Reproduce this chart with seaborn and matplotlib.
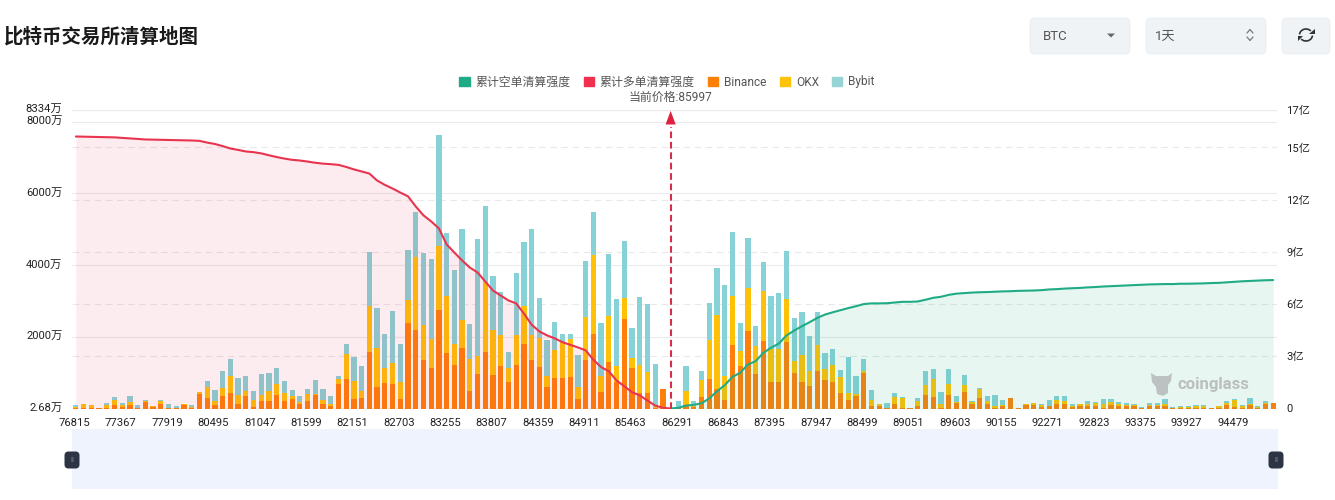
import matplotlib
matplotlib.use("Agg")
import matplotlib.pyplot as plt
from matplotlib.patches import Arc, FancyBboxPatch, Patch, Polygon, Rectangle
from matplotlib.transforms import ScaledTranslation
import numpy as np
import pandas as pd
import seaborn as sns

# 每个价格档的清算强度,单位:万
binance = [
    20, 20, 14, 8, 28, 92, 48, 112, 8, 176,
    48, 120, 8, 6, 112, 17, 420, 308, 104, 364,
    448, 120, 356, 48, 204, 204, 372, 224, 272, 132,
    204, 372, 120, 84, 672, 832, 280, 288, 1576, 596,
    708, 672, 280, 2388, 2184, 1344, 1120, 2744, 1540, 1204,
    1680, 484, 972, 1568, 924, 1176, 728, 1204, 1792, 1344,
    1156, 616, 848, 840, 876, 272, 1344, 2072, 468, 1288,
    736, 2492, 1128, 440, 440, 14, 560, 0, 20, 112,
    48, 316, 812, 560, 252, 1772, 1176, 2156, 972, 1896,
    736, 736, 1856, 988, 736, 624, 1036, 784, 736, 448,
    252, 344, 988, 84, 84, 8, 120, 20, 6, 84,
    372, 328, 20, 392, 148, 456, 132, 308, 132, 28,
    76, 300, 3, 112, 92, 36, 64, 140, 120, 36,
    64, 84, 84, 28, 92, 84, 76, 76, 20, 76,
    84, 84, 20, 20, 20, 28, 20, 6, 20, 104,
    36, 28, 92, 20, 132, 148,
]
okx = [
    28, 112, 78, 6, 84, 160, 64, 84, 8, 48,
    17, 84, 8, 6, 8, 20, 48, 288, 101, 216,
    448, 252, 148, 204, 168, 280, 308, 216, 73, 64,
    216, 48, 132, 56, 160, 689, 484, 216, 1288, 1092,
    412, 608, 468, 636, 2052, 988, 820, 1800, 1588, 596,
    792, 888, 493, 1960, 1260, 876, 400, 840, 1064, 720,
    812, 288, 784, 1016, 1075, 344, 1196, 2212, 437, 1288,
    440, 580, 291, 764, 568, 22, 0, 0, 17, 384,
    36, 476, 1112, 2044, 652, 1355, 440, 1196, 773, 1380,
    916, 916, 1204, 328, 756, 412, 736, 316, 487, 428,
    176, 56, 48, 160, 48, 11, 207, 288, 6, 140,
    272, 484, 120, 300, 48, 188, 56, 244, 84, 56,
    28, 0, 3, 8, 56, 56, 20, 112, 95, 48,
    56, 36, 76, 112, 104, 36, 36, 17, 8, 28,
    28, 48, 8, 17, 36, 56, 64, 3, 45, 45,
    216, 48, 48, 28, 17, 0,
]
bybit = [
    45, 8, 11, 3, 56, 84, 48, 148, 95, 20,
    20, 39, 123, 53, 3, 56, 3, 168, 319, 456,
    476, 487, 400, 244, 580, 496, 459, 325, 168, 160,
    132, 372, 300, 224, 64, 280, 664, 692, 1504, 1112,
    952, 1445, 1044, 1400, 1252, 2008, 2232, 3072, 1764, 2064,
    2531, 980, 3268, 2120, 1512, 1187, 440, 1736, 1792, 2948,
    1103, 1019, 776, 216, 140, 868, 1576, 1204, 1476, 1736,
    1868, 1604, 820, 1904, 1904, 1215, 0, 0, 168, 680,
    132, 244, 1016, 1308, 2540, 1792, 773, 1408, 552, 812,
    1492, 1568, 1336, 1212, 1196, 988, 924, 459, 428, 196,
    1008, 496, 356, 288, 8, 140, 120, 8, 8, 84,
    392, 288, 336, 409, 148, 280, 28, 28, 148, 288,
    129, 8, 3, 0, 11, 48, 168, 112, 129, 48,
    11, 84, 28, 132, 76, 56, 48, 48, 20, 45,
    56, 148, 8, 39, 8, 8, 8, 6, 11, 67,
    20, 36, 160, 17, 67, 11,
]

# 累计清算强度,单位:亿
long_line = [
    15.63, 15.62, 15.61, 15.60, 15.59, 15.58, 15.55, 15.52, 15.49, 15.46,
    15.45, 15.44, 15.43, 15.42, 15.41, 15.40, 15.38, 15.28, 15.20, 15.08,
    14.94, 14.86, 14.77, 14.73, 14.66, 14.55, 14.45, 14.36, 14.29, 14.25,
    14.19, 14.12, 14.07, 14.04, 14.00, 13.88, 13.74, 13.62, 13.50, 13.10,
    12.85, 12.64, 12.41, 12.19, 11.61, 11.10, 10.75, 10.35, 9.43, 8.96,
    8.51, 8.10, 7.82, 7.30, 6.78, 6.49, 6.21, 6.04, 5.46, 4.82,
    4.43, 4.20, 4.03, 3.81, 3.66, 3.51, 3.34, 2.80, 2.38, 2.14,
    1.61, 1.28, 0.94, 0.75, 0.46, 0.17, 0.04, 0,
]
short_line = [
    0, 0.04, 0.17, 0.21, 0.30, 0.58, 0.99, 1.34, 1.82, 2.05, 2.53, 2.72,
    3.20, 3.49, 3.73, 4.20, 4.48, 4.73, 4.96, 5.21, 5.40, 5.53, 5.65, 5.77,
    5.88, 6.00, 6.04, 6.04, 6.05, 6.09, 6.13, 6.13, 6.15, 6.25, 6.36, 6.42,
    6.53, 6.60, 6.63, 6.66, 6.68, 6.69, 6.71, 6.73, 6.74, 6.76, 6.77, 6.78,
    6.80, 6.84, 6.86, 6.89, 6.91, 6.93, 6.96, 6.98, 7.01, 7.03, 7.05, 7.07,
    7.09, 7.11, 7.13, 7.14, 7.15, 7.15, 7.17, 7.17, 7.18, 7.19, 7.21, 7.22,
    7.25, 7.28, 7.31, 7.33, 7.35, 7.37, 7.38,
]

price_labels = [
    "76815", "77367", "77919", "80495", "81047", "81599", "82151", "82703", "83255",
    "83807", "84359", "84911", "85463", "86291", "86843", "87395", "87947", "88499",
    "89051", "89603", "90155", "92271", "92823", "93375", "93927", "94479",
]
left_ticks = [2.68, 2000, 4000, 6000, 8000, 8334]
left_labels = ["2.68万", "2000万", "4000万", "6000万", "8000万", "8334万"]
right_max = 17.17
right_ticks = [0, 3, 6, 9, 12, 15, right_max]
right_labels = ["0", "3亿", "6亿", "9亿", "12亿", "15亿", "17亿"]

ORANGE = "#FF7F0A"
YELLOW = "#FFC107"
TEAL = "#86D2D6"
RED = "#E8344E"
GREEN = "#1FAB85"
W, H = 1335, 500

sns.set_theme(style="white")
plt.rcParams["font.family"] = ["Roboto", "Noto Sans CJK SC", "DejaVu Sans"]

n = len(binance)
df = pd.DataFrame({"pos": np.arange(n), "binance": binance, "okx": okx, "bybit": bybit})
df["okx_top"] = df["binance"] + df["okx"]
df["bybit_top"] = df["okx_top"] + df["bybit"]
long_df = pd.DataFrame({"pos": np.arange(len(long_line)), "v": long_line})
short_df = pd.DataFrame({"pos": np.arange(n - len(short_line), n), "v": short_line})

fig = plt.figure(figsize=(W / 100, H / 100), dpi=100, facecolor="white")
rect = [72 / W, 1 - 408.5 / H, (1277 - 72) / W, (408.5 - 109.7) / H]
ax = fig.add_axes(rect)
ax_right = ax.twinx()
ax_line = ax.twinx()
ax_right.set_zorder(1)
ax.set_zorder(2)
ax_line.set_zorder(3)
ax.patch.set_visible(False)
ax_line.patch.set_visible(False)

# 柱子:从累计最高的一层往下叠
bar_style = dict(saturation=1, width=0.68, linewidth=0, edgecolor="none", ax=ax)
sns.barplot(data=df, x="pos", y="bybit_top", color=TEAL, **bar_style)
sns.barplot(data=df, x="pos", y="okx_top", color=YELLOW, **bar_style)
sns.barplot(data=df, x="pos", y="binance", color=ORANGE, **bar_style)
ax.set_xlim(-0.5, n - 0.5)
ax.set_ylim(2.68, 8334)
ax.set_xlabel("")
ax.set_ylabel("")
ax.set_xticks(np.arange(0, n, 6))
ax.set_xticklabels(price_labels)
ax.set_yticks(left_ticks)
ax.set_yticklabels(left_labels)
ax.tick_params(axis="x", length=0, pad=6.5, labelsize=8.1, labelcolor="#222222")
ax.tick_params(axis="y", length=0, pad=7, labelsize=8.1, labelcolor="#222222")
# 标签相对刻度的细微偏移
for lab in ax.get_xticklabels():
    lab.set_transform(lab.get_transform() + ScaledTranslation(-1.5 / 100, 0, fig.dpi_scale_trans))
for lab in ax.get_yticklabels():
    lab.set_transform(lab.get_transform() + ScaledTranslation(0, 1.5 / 100, fig.dpi_scale_trans))

# 网格线放到最底层
ax_right.set_ylim(0, right_max)
ax_right.set_yticks(right_ticks)
ax_right.set_yticklabels(right_labels)
ax_right.tick_params(axis="y", length=0, pad=6.5, labelsize=8.1, labelcolor="#222222")
ax_right.grid(True, axis="y", color="#E9E9E9", lw=0.8, ls=(0, (6, 4)))
for y in left_ticks[1:]:
    ax_right.axhline(y * right_max / 8334, color="#ECECEC", lw=0.8, zorder=0)

# 累计曲线
ax_line.set_ylim(0, right_max)
ax_line.set_yticks([])
ax_line.fill_between(long_df["pos"], long_df["v"], color="#F0304F", alpha=0.09, lw=0)
ax_line.fill_between(short_df["pos"], short_df["v"], color=GREEN, alpha=0.1, lw=0)
sns.lineplot(data=long_df, x="pos", y="v", color=RED, lw=1.5, ax=ax_line, legend=False)
sns.lineplot(data=short_df, x="pos", y="v", color=GREEN, lw=1.5, ax=ax_line, legend=False)
ax_line.set_xlim(-0.5, n - 0.5)
ax_line.set_xlabel("")
ax_line.set_ylabel("")

# 当前价格标记
price_pos = len(long_line) - 1
ax_line.plot([price_pos, price_pos], [0, 16.2], color="#D62F4B", lw=1.5, ls=(0, (3.2, 1.8)))
ax_line.annotate(
    "", xy=(price_pos, 17.1), xytext=(price_pos, 16.3),
    arrowprops=dict(arrowstyle="-|>,head_length=0.75,head_width=0.28", color="#E0203F", lw=0, mutation_scale=13,
                    shrinkA=0, shrinkB=0),
)

for a in (ax, ax_right, ax_line):
    sns.despine(ax=a, left=True, right=True, top=True, bottom=True)

# 图例
handles = [
    Patch(color=GREEN, label="累计空单清算强度"),
    Patch(color="#F0304F", label="累计多单清算强度"),
    Patch(color="#FA8008", label="Binance"),
    Patch(color="#FFC30B", label="OKX"),
    Patch(color="#96D5D5", label="Bybit"),
]
fig.legend(
    handles=handles, loc="center", bbox_to_anchor=(667 / W, 1 - 82 / H), ncol=5, frameon=False,
    fontsize=8.6, handlelength=0.85, handleheight=0.85, handletextpad=0.5, columnspacing=1.1,
    labelcolor="#555555", borderpad=0,
)

# 页面上的其他元素,用像素坐标画
ui = fig.add_axes([0, 0, 1, 1], zorder=5)
ui.set_xlim(0, W)
ui.set_ylim(H, 0)
ui.axis("off")

ui.text(4, 37, "比特币交易所清算地图", fontsize=14, fontweight="bold", color="#1A1A1A", va="center",
        family=["Noto Sans CJK SC", "DejaVu Sans"])
ui.text(670, 97, "当前价格:85997", fontsize=8.6, color="#555555", ha="center", va="center")


def button(x0, x1):
    ui.add_patch(FancyBboxPatch((x0 + 4, 22), x1 - x0 - 8, 28, boxstyle="round,pad=4,rounding_size=5",
                                fc="#F0F3F6", ec="#E9ECF0", lw=0.6))


button(1030, 1130)
button(1146, 1266)
button(1282, 1330)
ui.text(1043, 36, "BTC", fontsize=9.5, color="#555555", va="center")
ui.text(1155, 36, "1天", fontsize=9.5, color="#555555", va="center")
ui.add_patch(Polygon([[1107, 33.5], [1115, 33.5], [1111, 37.5]], fc="#666666", ec="none"))
ui.plot([1247, 1250, 1253], [33, 29.5, 33], color="#777777", lw=0.9)
ui.plot([1247, 1250, 1253], [37, 40.5, 37], color="#777777", lw=0.9)
ui.add_patch(Arc((1306, 35), 13, 12, theta1=185, theta2=320, color="#333333", lw=1.2))
ui.add_patch(Arc((1306, 35), 13, 12, theta1=5, theta2=140, color="#333333", lw=1.2))
ui.add_patch(Polygon([[1309, 34], [1314.5, 34], [1314.5, 29]], fc="#333333", ec="none"))
ui.add_patch(Polygon([[1303, 36], [1297.5, 36], [1297.5, 41]], fc="#333333", ec="none"))

# 水印
ui.add_patch(Polygon(
    [[1151, 373], [1156, 376], [1168, 376], [1172, 373], [1171, 381], [1168, 385], [1168, 393],
     [1163, 396], [1157, 394], [1156, 387], [1152, 382]],
    fc="#B8BCBC", ec="none", alpha=0.9,
))
ui.text(1177, 384, "coinglass", fontsize=12, fontweight="bold", color="#B8BCBC", va="center", alpha=0.95)

# 底部缩放条
ui.add_patch(Rectangle((72, 429), 1206, 60, fc="#EFF3FD", ec="none"))
for cx in (72, 1276):
    ui.add_patch(FancyBboxPatch((cx - 5, 454), 10, 12, boxstyle="round,pad=2.5,rounding_size=4",
                                fc="#2D3444", ec="none"))
    ui.text(cx, 460, "II", fontsize=5.5, color="#8C93A3", ha="center", va="center")

fig.savefig("out.png", dpi=100)
